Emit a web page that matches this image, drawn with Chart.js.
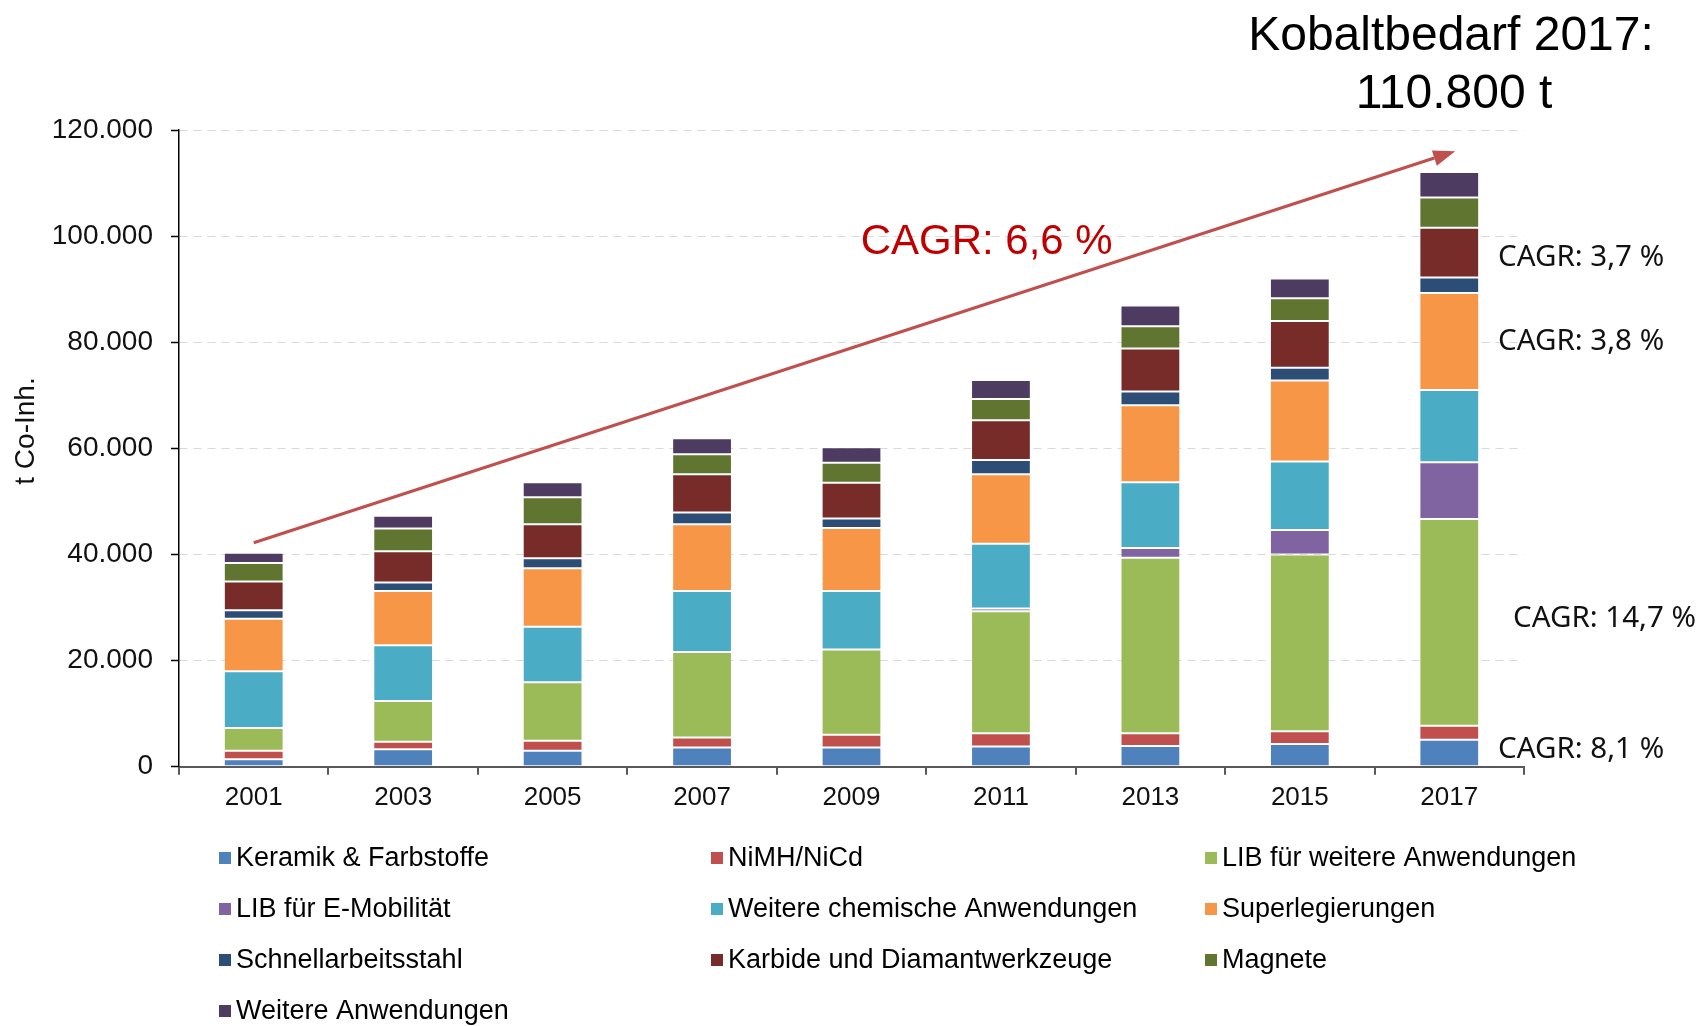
<!DOCTYPE html>
<html>
<head>
<meta charset="utf-8">
<title>Kobaltbedarf 2001-2017</title>
<script src="https://cdn.jsdelivr.net/npm/chart.js@4.4.1/dist/chart.umd.min.js"></script>
<style>
  html, body { margin: 0; padding: 0; background: #fff; }
  #wrap { width: 1699px; height: 1026px; }
</style>
</head>
<body>
<div id="wrap"><canvas id="cobaltChart" width="1699" height="1026"></canvas></div>
<script>
// Kobaltbedarf nach Anwendung, t Co-Inhalt
const years = ['2001', '2003', '2005', '2007', '2009', '2011', '2013', '2015', '2017'];
const keramik     = [1400, 3300, 3000, 3600, 3600, 3800, 3900, 4300, 5100];
const nimh        = [1600, 1400, 1900, 1900, 2400, 2500, 2400, 2400, 2600];
const libWeitere  = [4300, 7700, 11000, 16100, 16100, 23000, 33100, 33300, 39000];
const libEMob     = [0, 0, 0, 0, 0, 500, 1800, 4600, 10700];
const weitereChem = [10700, 10500, 10500, 11500, 11000, 12200, 12400, 12900, 13600];
const superleg    = [9900, 10200, 11000, 12600, 11900, 13100, 14500, 15300, 18300];
const schnell     = [1600, 1600, 1900, 2200, 1800, 2700, 2600, 2400, 2900];
const karbide     = [5400, 5900, 6400, 7200, 6700, 7500, 8100, 8800, 9400];
const magnete     = [3500, 4300, 5100, 3800, 3800, 4000, 4200, 4300, 5700];
const weitereAnw  = [1900, 2400, 2800, 3000, 2900, 3600, 3900, 3700, 4800];

const yTicks = [0, 20000, 40000, 60000, 80000, 100000, 120000];

// Trendpfeil (Gesamtbedarf 2001 -> 2017) und CAGR-Texte
const arrowFrom = 42200;
const arrowTo = 116000;
const cagrTotal = 'CAGR: 6,6 %';
const cagrNotes = [
  { text: 'CAGR: 3,7 %', dataset: 7 },
  { text: 'CAGR: 3,8 %', dataset: 5 },
  { text: 'CAGR: 14,7 %', dataset: 2 },
  { text: 'CAGR: 8,1 %', dataset: 0 }
];

const fmt = v => String(v).replace(/\B(?=(\d{3})+(?!\d))/g, '.');

const series = [
  ['Keramik & Farbstoffe', keramik, '#4f81bd'],
  ['NiMH/NiCd', nimh, '#c0504d'],
  ['LIB für weitere Anwendungen', libWeitere, '#9bbb59'],
  ['LIB für E-Mobilität', libEMob, '#8064a2'],
  ['Weitere chemische Anwendungen', weitereChem, '#4bacc6'],
  ['Superlegierungen', superleg, '#f79646'],
  ['Schnellarbeitsstahl', schnell, '#2c4d75'],
  ['Karbide und Diamantwerkzeuge', karbide, '#772c2a'],
  ['Magnete', magnete, '#5f7530'],
  ['Weitere Anwendungen', weitereAnw, '#4d3b62']
];

Chart.defaults.font.family = '"Liberation Sans", Arial, sans-serif';
Chart.defaults.color = '#111';

const extras = {
  id: 'extras',
  afterDatasetsDraw(chart) {
    const ctx = chart.ctx;
    const xs = chart.scales.x, ys = chart.scales.y;
    const area = chart.chartArea;

    // arrow
    const x0 = xs.getPixelForValue(0), y0 = ys.getPixelForValue(arrowFrom);
    const x1 = xs.getPixelForValue(8) + 6, y1 = ys.getPixelForValue(arrowTo);
    const ang = Math.atan2(y1 - y0, x1 - x0);
    const head = 22, half = 8;
    ctx.save();
    ctx.strokeStyle = '#c0504d';
    ctx.fillStyle = '#c0504d';
    ctx.lineWidth = 3;
    ctx.beginPath();
    ctx.moveTo(x0, y0);
    ctx.lineTo(x1 - Math.cos(ang) * head, y1 - Math.sin(ang) * head);
    ctx.stroke();
    ctx.beginPath();
    ctx.moveTo(x1, y1);
    ctx.lineTo(x1 - Math.cos(ang) * head - Math.sin(ang) * half, y1 - Math.sin(ang) * head + Math.cos(ang) * half);
    ctx.lineTo(x1 - Math.cos(ang) * head + Math.sin(ang) * half, y1 - Math.sin(ang) * head - Math.cos(ang) * half);
    ctx.closePath();
    ctx.fill();

    // CAGR total, above the arrow
    const t = 0.61;
    ctx.fillStyle = '#c00000';
    ctx.font = '42px "Liberation Sans", Arial, sans-serif';
    ctx.textAlign = 'center';
    ctx.textBaseline = 'middle';
    ctx.fillText(cagrTotal, x0 + (x1 - x0) * t, y0 + (y1 - y0) * t - 62);

    // CAGR per segment of the last bar
    ctx.fillStyle = '#111';
    ctx.font = '29.5px "Noto Sans", sans-serif';
    ctx.textAlign = 'left';
    const last = years.length - 1;
    const nudge = [5, 0, -4, -3];
    cagrNotes.forEach((n, i) => {
      const bar = chart.getDatasetMeta(n.dataset).data[last];
      const ym = (bar.y + bar.base) / 2 + nudge[i];
      const dx = n.text.length > 11 ? -11 : -26;
      ctx.fillText(n.text, area.right + dx, ym);
    });

    // y axis title
    ctx.fillStyle = '#111';
    ctx.font = '28px "Liberation Sans", Arial, sans-serif';
    ctx.textAlign = 'center';
    ctx.translate(26, 431);
    ctx.rotate(-Math.PI / 2);
    ctx.fillText('t Co-Inh.', 0, 0);
    ctx.restore();
  },
  afterDraw(chart) {
    const ctx = chart.ctx;
    ctx.save();
    // title
    ctx.fillStyle = '#000';
    ctx.font = '48px "Liberation Sans", Arial, sans-serif';
    ctx.textAlign = 'center';
    ctx.textBaseline = 'middle';
    ctx.fillText('Kobaltbedarf 2017:', 1451, 37);
    ctx.fillText('110.800 t', 1454, 95);

    // legend, 3 columns
    const cols = [219, 711, 1205];
    const rows = [858, 909, 960, 1011];
    ctx.font = '27px "Liberation Sans", Arial, sans-serif';
    ctx.textAlign = 'left';
    chart.data.datasets.forEach((ds, i) => {
      const cx = cols[i % 3], cy = rows[Math.floor(i / 3)];
      ctx.fillStyle = ds.backgroundColor;
      ctx.fillRect(cx, cy - 6, 12, 12);
      ctx.fillStyle = '#000';
      ctx.fillText(ds.label, cx + 17, cy + 1);
    });
    ctx.restore();
  }
};

new Chart(document.getElementById('cobaltChart'), {
  type: 'bar',
  data: {
    labels: years,
    datasets: series.map(([label, data, color]) => ({
      label: label,
      data: data,
      backgroundColor: color,
      borderColor: 'rgba(255,255,255,0.25)',
      borderWidth: 1,
      borderSkipped: false,
      categoryPercentage: 1,
      barPercentage: 0.4
    }))
  },
  options: {
    responsive: false,
    animation: false,
    layout: { padding: { left: 0, right: 175, top: 130, bottom: 199.3 } },
    plugins: {
      legend: { display: false },
      tooltip: { enabled: false }
    },
    scales: {
      x: {
        stacked: true,
        afterFit(scale) { scale.height = 60; },
        grid: { offset: true, drawOnChartArea: false, tickLength: 8, color: '#595959', lineWidth: 2 },
        border: { color: '#595959', width: 2 },
        ticks: { font: { size: 26 }, color: '#111', padding: 8 }
      },
      y: {
        stacked: true,
        min: 0,
        max: 120000,
        afterFit(scale) { scale.width = 179; },
        afterBuildTicks(scale) { scale.ticks = yTicks.map(v => ({ value: v })); },
        grid: { color: '#d9d9d9', lineWidth: 1, tickLength: 8, tickColor: '#000', tickWidth: 1.5 },
        border: { color: '#000', width: 1.5, dash: [8, 6] },
        ticks: { font: { size: 28 }, color: '#111', padding: 18, callback: v => fmt(v) }
      }
    }
  },
  plugins: [extras]
});
</script>
</body>
</html>
